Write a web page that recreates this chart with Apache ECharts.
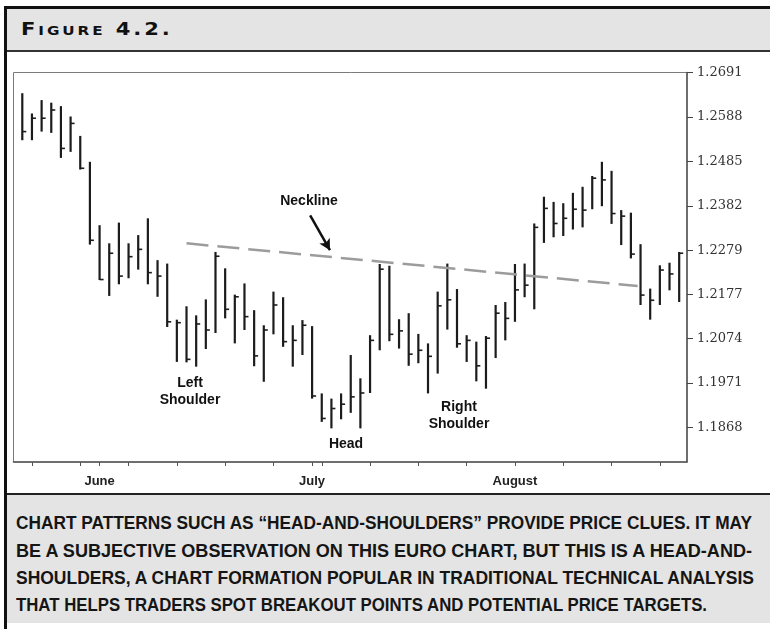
<!DOCTYPE html>
<html>
<head>
<meta charset="utf-8">
<script src="https://cdn.jsdelivr.net/npm/echarts@6/dist/echarts.min.js"></script>
<style>
  body { margin: 0; background: #fff; }
  #page { position: relative; width: 770px; height: 629px; overflow: hidden; background: #fff; }
  .blk { position: absolute; }
  #chart { position: absolute; left: 0; top: 0; width: 770px; height: 629px; }
  #figTitle { position: absolute; left: 21px; top: 18px; font-family: "DejaVu Sans", sans-serif; font-weight: bold;
    font-size: 18px; font-variant: small-caps; letter-spacing: 2.5px; color: #111; transform: scaleX(1.17); transform-origin: left; white-space: nowrap; }
  .cap { position: absolute; left: 16px; font-family: "Liberation Sans", sans-serif;
    font-weight: bold; font-size: 19px; line-height: 22px; color: #151515; white-space: nowrap; transform-origin: left; }
</style>
</head>
<body>
<div id="page">
  <div class="blk" style="left:7px;top:9px;width:763px;height:42px;background:#e4e4e4;"></div>
  <div class="blk" style="left:7px;top:50px;width:763px;height:2px;background:#333;"></div>
  <div class="blk" style="left:4px;top:6px;width:766px;height:3px;background:#111;"></div>
  <div class="blk" style="left:4px;top:6px;width:3px;height:623px;background:#111;"></div>
  <div id="figTitle">Figure 4.2.</div>
  <div class="blk" style="left:7px;top:493px;width:763px;height:2px;background:#222;"></div>
  <div class="blk" style="left:7px;top:495px;width:763px;height:128px;background:#e4e4e4;"></div>
  <div class="cap" data-w="736" style="top:512px;">CHART PATTERNS SUCH AS “HEAD-AND-SHOULDERS” PROVIDE PRICE CLUES. IT MAY</div>
  <div class="cap" data-w="736" style="top:540px;">BE A SUBJECTIVE OBSERVATION ON THIS EURO CHART, BUT THIS IS A HEAD-AND-</div>
  <div class="cap" data-w="738" style="top:567px;">SHOULDERS, A CHART FORMATION POPULAR IN TRADITIONAL TECHNICAL ANALYSIS</div>
  <div class="cap" data-w="691" style="top:594px;">THAT HELPS TRADERS SPOT BREAKOUT POINTS AND POTENTIAL PRICE TARGETS.</div>
  <div id="chart"></div>
</div>
<script>
// squeeze caption lines to the width they take in the figure
var caps = document.querySelectorAll('.cap');
for (var c = 0; c < caps.length; c++) {
  var w = caps[c].getBoundingClientRect().width;
  caps[c].style.transform = 'scaleX(' + (caps[c].getAttribute('data-w') / w) + ')';
}

// daily EUR bars, June - August
var highs = [1.2643,1.2596,1.2627,1.2621,1.2613,1.2589,1.2544,1.2484,1.2337,1.2295,
  1.2343,1.2295,1.2314,1.2353,1.2256,1.2248,1.2118,1.2149,1.2128,1.2165,
  1.2275,1.2237,1.2176,1.2202,1.2140,1.2105,1.2183,1.2170,1.2105,1.2117,
  1.2103,1.1947,1.1935,1.1947,1.2036,1.1982,1.2082,1.2247,1.2243,1.2119,
  1.2133,1.2085,1.2063,1.2183,1.2248,1.2189,1.2082,1.2067,1.2080,1.2152,
  1.2159,1.2247,1.2248,1.2341,1.2403,1.2391,1.2388,1.2412,1.2426,1.2451,
  1.2484,1.2463,1.2372,1.2366,1.2293,1.2190,1.2244,1.2250,1.2275];
var lows = [1.2534,1.2534,1.2554,1.2551,1.2493,1.2507,1.2466,1.2292,1.2210,1.2173,
  1.2200,1.2214,1.2234,1.2200,1.2171,1.2101,1.2020,1.2019,1.2009,1.2050,
  1.2087,1.2121,1.2063,1.2094,1.2010,1.1974,1.2084,1.2055,1.2009,1.2036,
  1.1935,1.1881,1.1866,1.1887,1.1902,1.1866,1.1948,1.2047,1.2068,1.2051,
  1.2011,1.2017,1.1947,1.1993,1.2095,1.2053,1.2020,1.1975,1.1958,1.2029,
  1.2070,1.2113,1.2170,1.2142,1.2296,1.2309,1.2312,1.2327,1.2332,1.2374,
  1.2381,1.2340,1.2291,1.2260,1.2152,1.2118,1.2152,1.2186,1.2159];
var closes = [1.2554,1.2585,1.2585,1.2604,1.2515,1.2573,1.2469,1.2302,1.2211,1.2272,
  1.2219,1.2264,1.2281,1.2227,1.2219,1.2113,1.2111,1.2026,1.2108,1.2094,
  1.2265,1.2142,1.2171,1.2125,1.2034,1.2094,1.2152,1.2067,1.2070,1.2105,
  1.1941,1.1889,1.1912,1.1922,1.1939,1.1948,1.2070,1.2235,1.2084,1.2092,
  1.2038,1.2047,1.2033,1.2150,1.2164,1.2062,1.2070,1.2011,1.2075,1.2133,
  1.2121,1.2187,1.2198,1.2332,1.2376,1.2341,1.2353,1.2374,1.2372,1.2446,
  1.2442,1.2364,1.2358,1.2270,1.2175,1.2163,1.2233,1.2224,1.2272];

var yTicks = [1.1868, 1.1971, 1.2074, 1.2177, 1.2279, 1.2382, 1.2485, 1.2588, 1.2691];
var weekTicks = [1, 6, 11, 16, 21, 26, 31, 36, 41, 46, 51, 56, 61, 66];
var monthPos = [8, 30, 51];
var monthNames = ['June', 'July', 'August'];

// neckline and arrow (bar index, price)
var neckX = [17.0, 63.7];
var neckY = [1.2295, 1.2196];
var arrowFrom = [29.8, 1.2360];
var arrowTo = [31.85, 1.2279];

var bars = [];
for (var i = 0; i < highs.length; i++) {
  bars.push([i, highs[i], lows[i], closes[i]]);
}

var myChart = echarts.init(document.getElementById('chart'));
myChart.setOption({
  animation: false,
  grid: {
    left: 13.5, top: 72.5, width: 673.5, height: 389.5,
    show: true, borderColor: '#7a7a7a', borderWidth: 1, backgroundColor: 'transparent'
  },
  xAxis: {
    type: 'value', min: -0.91, max: 68.81,
    axisLine: { onZero: false, lineStyle: { color: '#555', width: 1.5 } },
    axisTick: { customValues: weekTicks.concat(monthPos), length: 4, lineStyle: { color: '#555' } },
    axisLabel: {
      customValues: monthPos, margin: 13,
      fontFamily: 'Liberation Sans', fontWeight: 'bold', fontSize: 13, color: '#222',
      formatter: function (v) { return monthNames[monthPos.indexOf(Math.round(v))] || ''; }
    },
    splitLine: { show: false }
  },
  yAxis: {
    type: 'value', position: 'right', min: 1.1788, max: 1.2691,
    axisLine: { show: true, onZero: false, lineStyle: { color: '#555', width: 1.5 } },
    axisTick: { show: true, customValues: yTicks, length: 6, lineStyle: { color: '#444' } },
    axisLabel: {
      customValues: yTicks, margin: 10,
      fontFamily: 'DejaVu Serif', fontSize: 13, color: '#333',
      formatter: function (v) { return v.toFixed(4); }
    },
    splitLine: { show: false }
  },
  series: [
    {
      type: 'custom',
      data: bars,
      encode: { x: 0, y: [1, 2, 3] },
      renderItem: function (params, api) {
        var x = api.value(0);
        var hi = api.coord([x, api.value(1)]);
        var lo = api.coord([x, api.value(2)]);
        var cl = api.coord([x, api.value(3)]);
        return {
          type: 'group',
          children: [
            { type: 'line', shape: { x1: hi[0], y1: hi[1], x2: lo[0], y2: lo[1] },
              style: { stroke: '#1c1c1c', lineWidth: 2.2 } },
            { type: 'line', shape: { x1: cl[0], y1: cl[1], x2: cl[0] + 4, y2: cl[1] },
              style: { stroke: '#1c1c1c', lineWidth: 1.6 } }
          ]
        };
      }
    },
    {
      type: 'line',
      data: [[neckX[0], neckY[0]], [neckX[1], neckY[1]]],
      symbol: 'none',
      lineStyle: { color: '#9c9c9c', width: 2.5, type: [22, 9] },
      markLine: {
        silent: true,
        symbol: ['none', 'arrow'],
        symbolSize: [9, 11],
        label: { show: false },
        lineStyle: { color: '#111', width: 2.5, type: 'solid' },
        data: [[{ coord: arrowFrom }, { coord: arrowTo }]]
      }
    }
  ],
  graphic: [
    { type: 'text', x: 309, y: 194, style: { text: 'Neckline', font: 'bold 14px "Liberation Sans"', fill: '#111', align: 'center', verticalAlign: 'top' } },
    { type: 'text', x: 190, y: 375, style: { text: 'Left\nShoulder', font: 'bold 14px "Liberation Sans"', fill: '#111', align: 'center', verticalAlign: 'top', lineHeight: 17 } },
    { type: 'text', x: 346, y: 437, style: { text: 'Head', font: 'bold 14px "Liberation Sans"', fill: '#111', align: 'center', verticalAlign: 'top' } },
    { type: 'text', x: 459, y: 399, style: { text: 'Right\nShoulder', font: 'bold 14px "Liberation Sans"', fill: '#111', align: 'center', verticalAlign: 'top', lineHeight: 17 } }
  ]
});
</script>
</body>
</html>
